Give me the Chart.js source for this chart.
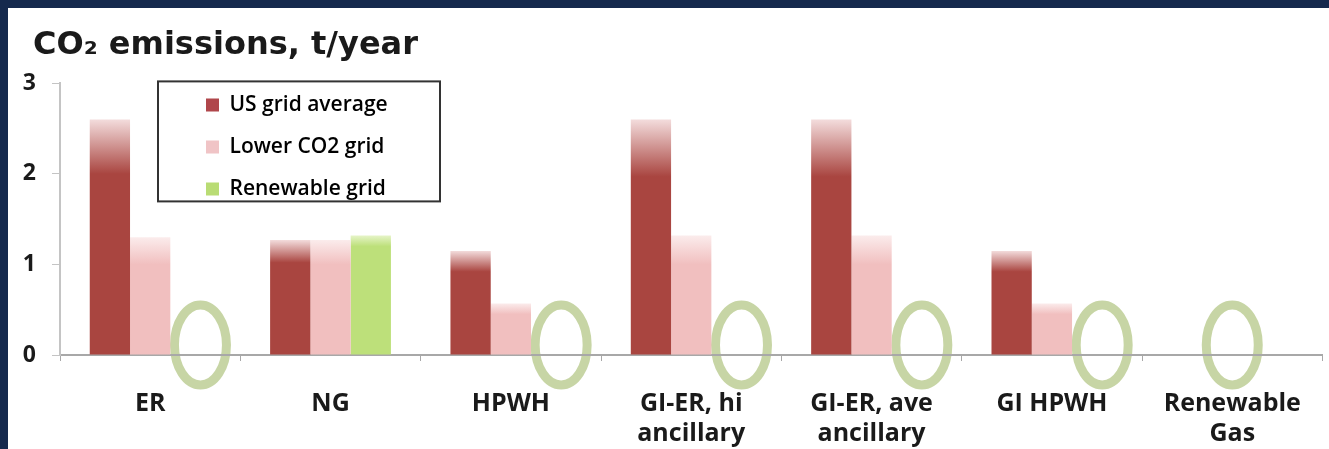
<!DOCTYPE html>
<html>
<head>
<meta charset="utf-8">
<script src="https://cdn.jsdelivr.net/npm/chart.js@4/dist/chart.umd.min.js"></script>
<style>
  html, body { margin: 0; padding: 0; background: #15294d; }
  #panel { position: absolute; left: 8px; top: 8px; width: 1321px; height: 441px; background: #fff; }
  #chart { display: block; }
</style>
</head>
<body>
<div id="panel"><canvas id="chart" width="1321" height="441"></canvas></div>
<script>
// categories and values (t CO2 / year)
const categories = ['ER', 'NG', 'HPWH', ['GI-ER, hi', 'ancillary'], ['GI-ER, ave', 'ancillary'], 'GI HPWH', ['Renewable', 'Gas']];
const seriesNames = ['US grid average', 'Lower CO2 grid', 'Renewable grid'];
// top of each bar
const usGrid    = [2.6, 1.27, 1.15, 2.6, 2.6, 1.15, 0];
const lowerCO2  = [1.3, 1.27, 0.57, 1.32, 1.32, 0.57, 0];
const renewable = [0, 1.32, 0, 0, 0, 0, 0];
// level where the solid part of the bar ends and the faded top begins
const usGridSolid    = [2.0, 1.02, 0.92, 1.97, 1.97, 0.92, 0];
const lowerCO2Solid  = [1.0, 1.0, 0.45, 1.0, 1.0, 0.45, 0];
const renewableSolid = [0, 1.2, 0, 0, 0, 0, 0];
const yTicks = [0, 1, 2, 3];

const FONT = "'Open Sans', 'DejaVu Sans', sans-serif";

function fadeFill(solidArr, solid, faded) {
    return (ctx) => {
        const chart = ctx.chart;
        if (!chart.chartArea || ctx.dataIndex === undefined) return solid;
        const y = chart.scales.y;
        const i = ctx.dataIndex;
        const v = ctx.dataset.data[i];
        const yTop = y.getPixelForValue(v);
        const ySolid = y.getPixelForValue(solidArr[i]);
        if (ySolid - yTop < 1) return solid;
        const g = chart.ctx.createLinearGradient(0, yTop, 0, ySolid);
        g.addColorStop(0, faded);
        g.addColorStop(1, solid);
        return g;
    };
}

// green rings marking the zero results
const zeroRings = {
    id: 'zeroRings',
    beforeDraw(chart) {
        const ctx = chart.ctx;
        const xs = chart.scales.x, ys = chart.scales.y;
        const meta = chart.getDatasetMeta(2);
        ctx.save();
        ctx.strokeStyle = 'rgba(196, 211, 160, 0.95)';
        ctx.lineWidth = 9;
        renewable.forEach((v, i) => {
            if (v !== 0) return;
            let x;
            if (usGrid[i] === 0 && lowerCO2[i] === 0) x = xs.getPixelForValue(i);
            else x = meta.data[i].x + 10;
            const y = ys.getPixelForValue(0) - 10;
            ctx.beginPath();
            ctx.ellipse(x, y, 26, 40, 0, 0, Math.PI * 2);
            ctx.stroke();
        });
        ctx.restore();
    }
};

// legend boxed inside the plot, title nudged right of the axis labels
const placeBlocks = {
    id: 'placeBlocks',
    afterLayout(chart) {
        const lg = chart.legend;
        const ca = chart.chartArea;
        lg.left = ca.left + 125;
        lg.right = lg.left + lg.width;
        lg.top = ca.top - 10;
        lg.bottom = lg.top + 150;
        chart.titleBlock.left = 25;
    },
    afterDraw(chart) {
        const lg = chart.legend;
        const ctx = chart.ctx;
        ctx.save();
        ctx.strokeStyle = '#333';
        ctx.lineWidth = 2;
        ctx.strokeRect(lg.left - 27, lg.top + 8, 282, 120);
        ctx.restore();
    }
};

new Chart(document.getElementById('chart'), {
    type: 'bar',
    data: {
        labels: categories,
        datasets: [
            { label: seriesNames[0], data: usGrid, solidColor: '#b0464b',
              backgroundColor: fadeFill(usGridSolid, '#a94540', '#f3dcdc') },
            { label: seriesNames[1], data: lowerCO2, solidColor: '#f0c4c6',
              backgroundColor: fadeFill(lowerCO2Solid, '#f1bfbf', '#fbecec') },
            { label: seriesNames[2], data: renewable, solidColor: '#b9dc74',
              backgroundColor: fadeFill(renewableSolid, '#bde07a', '#e6f4c8') }
        ]
    },
    options: {
        responsive: false,
        animation: false,
        layout: { padding: { left: 5, right: 2, top: 0, bottom: 0 } },
        datasets: { bar: { categoryPercentage: 0.67, barPercentage: 1.0, borderWidth: 0 } },
        plugins: {
            title: {
                display: true,
                text: 'CO₂ emissions, t/year',
                align: 'start',
                color: '#1a1a1a',
                font: { family: "'DejaVu Sans', sans-serif", size: 32, weight: 'bold' },
                padding: { top: 18, bottom: 19 }
            },
            legend: {
                display: true,
                position: 'chartArea',
                align: 'start',
                labels: {
                    boxWidth: 13,
                    boxHeight: 13,
                    padding: 21,
                    color: '#111',
                    font: { family: FONT, size: 21, weight: '600' },
                    generateLabels: (chart) => chart.data.datasets.map((ds, i) => ({
                        text: ds.label, fillStyle: ds.solidColor, strokeStyle: ds.solidColor,
                        lineWidth: 0, hidden: false, datasetIndex: i
                    }))
                }
            },
            tooltip: { enabled: false }
        },
        scales: {
            x: {
                afterFit: (s) => { s.height = 94; },
                grid: { drawOnChartArea: false, drawTicks: true, tickLength: 6, color: '#a8a8a8' },
                border: { color: '#a8a8a8', width: 2 },
                ticks: {
                    color: '#1a1a1a', padding: 28, maxRotation: 0, autoSkip: false,
                    font: { family: FONT, size: 25, weight: 'bold' }
                }
            },
            y: {
                min: 0, max: 3,
                afterBuildTicks: (s) => { s.ticks = yTicks.map(v => ({ value: v })); },
                afterFit: (s) => { s.width = 47; },
                grid: { drawOnChartArea: false, drawTicks: true, tickLength: 8, color: '#c4c4c4' },
                border: { color: '#c4c4c4', width: 2 },
                ticks: {
                    color: '#1a1a1a', padding: 16,
                    font: { family: FONT, size: 23, weight: 'bold' }
                }
            }
        }
    },
    plugins: [zeroRings, placeBlocks]
});
</script>
</body>
</html>
